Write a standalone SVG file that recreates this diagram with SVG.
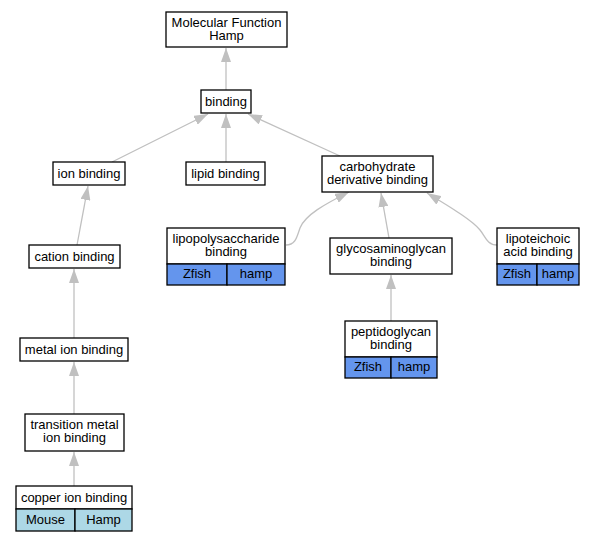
<svg xmlns="http://www.w3.org/2000/svg" width="593" height="541" viewBox="0 0 593 541">
<style>
text{font-family:"Liberation Sans",Arial,sans-serif;font-size:13px;fill:#000;text-anchor:middle}
.b{fill:#fff;stroke:#000;stroke-width:1.3}
.z{fill:#6495ed;stroke:#000;stroke-width:1.3}
.m{fill:#add8e6;stroke:#000;stroke-width:1.3}
.e{fill:none;stroke:#c0c0c0;stroke-width:1.3;marker-end:url(#a)}
</style>
<defs>
<marker id="a" viewBox="0 0 14 10" refX="14" refY="5" markerWidth="14" markerHeight="10" markerUnits="userSpaceOnUse" orient="auto">
<path d="M0,0 L14,5 L0,10 z" fill="#c0c0c0"/>
</marker>
</defs>
<rect width="593" height="541" fill="#fff"/>
<g id="edges">
<path class="e" d="M226,90 L226,48"/>
<path class="e" d="M112,162 L208,114"/>
<path class="e" d="M226,162 L226,114"/>
<path class="e" d="M340,156 L248,114"/>
<path class="e" d="M77,245 L88,186"/>
<path class="e" d="M74,338 L74,269"/>
<path class="e" d="M74,414 L74,362"/>
<path class="e" d="M74,486 L74,452"/>
<path class="e" d="M286,245 C296,245 297,236 300,228 C305,215 325,204 349,192"/>
<path class="e" d="M389,238 L381,193"/>
<path class="e" d="M497,245 C487,245 485,236 480,230 C472,220 450,207 427,193"/>
<path class="e" d="M391,321 L391,275"/>
</g>
<g id="mf"><rect class="b" x="166" y="12" width="121" height="35"/><text x="226.5" y="27">Molecular Function</text><text x="226.5" y="40">Hamp</text></g>
<g id="binding"><rect class="b" x="201" y="90" width="50" height="23"/><text x="226" y="106">binding</text></g>
<g id="ion"><rect class="b" x="53" y="162" width="72" height="23"/><text x="89" y="178">ion binding</text></g>
<g id="lipid"><rect class="b" x="186" y="162" width="79" height="23"/><text x="225.5" y="178">lipid binding</text></g>
<g id="carb"><rect class="b" x="322" y="156" width="111" height="36"/><text x="377.5" y="171">carbohydrate</text><text x="377.5" y="184">derivative binding</text></g>
<g id="lps"><rect class="b" x="167" y="228" width="118" height="36"/><text x="226" y="243">lipopolysaccharide</text><text x="226" y="256">binding</text>
<rect class="z" x="167" y="264" width="60" height="21"/><rect class="z" x="227" y="264" width="58" height="21"/><text x="197" y="278">Zfish</text><text x="256" y="278">hamp</text></g>
<g id="gag"><rect class="b" x="330" y="238" width="122" height="36"/><text x="391" y="253">glycosaminoglycan</text><text x="391" y="266">binding</text></g>
<g id="lta"><rect class="b" x="497" y="228" width="82" height="36"/><text x="538" y="243">lipoteichoic</text><text x="538" y="256">acid binding</text>
<rect class="z" x="497" y="264" width="40" height="21"/><rect class="z" x="537" y="264" width="42" height="21"/><text x="517" y="278">Zfish</text><text x="558" y="278">hamp</text></g>
<g id="pg"><rect class="b" x="345" y="321" width="92" height="36"/><text x="391" y="336">peptidoglycan</text><text x="391" y="349">binding</text>
<rect class="z" x="345" y="357" width="46" height="21"/><rect class="z" x="391" y="357" width="46" height="21"/><text x="368" y="371">Zfish</text><text x="414" y="371">hamp</text></g>
<g id="cation"><rect class="b" x="29" y="245" width="91" height="23"/><text x="74.5" y="261">cation binding</text></g>
<g id="metal"><rect class="b" x="20" y="338" width="108" height="23"/><text x="74" y="354">metal ion binding</text></g>
<g id="trans"><rect class="b" x="25" y="414" width="99" height="37"/><text x="74.5" y="429">transition metal</text><text x="74.5" y="442">ion binding</text></g>
<g id="copper"><rect class="b" x="16" y="486" width="116" height="23"/><text x="74" y="502">copper ion binding</text>
<rect class="m" x="16" y="509" width="59" height="22"/><rect class="m" x="75" y="509" width="57" height="22"/><text x="45.5" y="524">Mouse</text><text x="103.5" y="524">Hamp</text></g>
</svg>
